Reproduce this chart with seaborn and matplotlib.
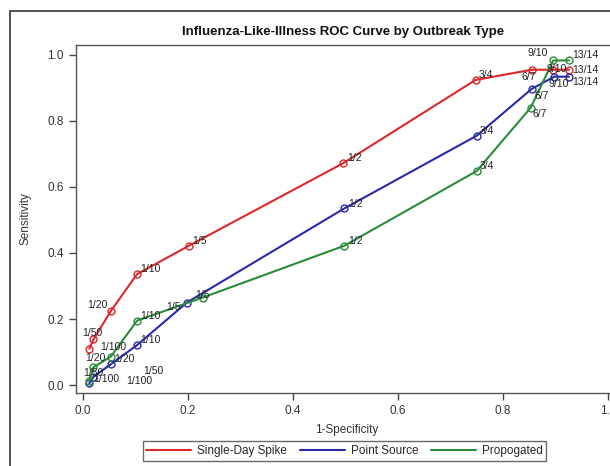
import numpy as np
import pandas as pd
import matplotlib
matplotlib.use('Agg')
import matplotlib.pyplot as plt
import seaborn as sns
from matplotlib.lines import Line2D
from matplotlib.patches import Rectangle

# ROC points per outbreak type, labelled by threshold
thresholds = ['1/100', '1/50', '1/20', '1/10', '1/5', '1/2', '3/4', '6/7', '9/10', '13/14']

spike_x = [0.012, 0.020, 0.053, 0.103, 0.202, 0.496, 0.748, 0.855, 0.896, 0.926]
spike_y = [0.110, 0.138, 0.224, 0.336, 0.422, 0.672, 0.924, 0.955, 0.955, 0.955]

point_x = [0.012, 0.020, 0.053, 0.103, 0.198, 0.498, 0.750, 0.855, 0.898, 0.926]
point_y = [0.005, 0.025, 0.063, 0.121, 0.250, 0.535, 0.755, 0.897, 0.934, 0.934]

prop_x = [0.012, 0.020, 0.053, 0.103, 0.228, 0.498, 0.750, 0.853, 0.896, 0.926]
prop_y = [0.012, 0.054, 0.086, 0.195, 0.265, 0.422, 0.648, 0.840, 0.983, 0.983]

series = ['Single-Day Spike', 'Point Source', 'Propogated']
colors = {'Single-Day Spike': '#dc2828', 'Point Source': '#2a2aa8', 'Propogated': '#2a8c3a'}

df = pd.concat([
    pd.DataFrame({'fpr': spike_x, 'sens': spike_y, 'lab': thresholds, 'type': series[0]}),
    pd.DataFrame({'fpr': point_x, 'sens': point_y, 'lab': thresholds, 'type': series[1]}),
    pd.DataFrame({'fpr': prop_x, 'sens': prop_y, 'lab': thresholds, 'type': series[2]}),
])

# label placement (offset points, centered) where the default doesn't fit
label_pos = {
    ('Single-Day Spike', '1/100'): (17, 1.5),
    ('Single-Day Spike', '1/50'): (-1, 5),
    ('Single-Day Spike', '1/20'): (-10, 4.5),
    ('Single-Day Spike', '6/7'): (-2, -5),
    ('Single-Day Spike', '9/10'): (2.5, 0.5),
    ('Point Source', '1/50'): (0, 2.5),
    ('Point Source', '1/5'): (-10, -3.5),
    ('Point Source', '6/7'): (7, -5),
    ('Point Source', '9/10'): (3, -5),
    ('Propogated', '1/100'): (36, 0),
    ('Propogated', '1/50'): (43, -2.5),
    ('Propogated', '1/20'): (-11, -1),
    ('Propogated', '1/5'): (0, 2),
    ('Propogated', '6/7'): (6.5, -4.5),
    ('Propogated', '9/10'): (-11, 5.5),
}

sns.set_style('white')
plt.rcParams['font.family'] = ['Liberation Sans', 'DejaVu Sans']

fig = plt.figure(figsize=(6.1, 4.66), dpi=100)
ax = fig.add_axes([0.1246, 0.1567, 0.889, 0.7468])

for name in series:
    sub = df[df['type'] == name]
    sns.lineplot(data=sub, x='fpr', y='sens', color=colors[name], sort=False,
                 marker='o', markersize=5, markerfacecolor='none',
                 markeredgecolor=colors[name], markeredgewidth=1,
                 linewidth=1.5, legend=False, ax=ax)
    for _, r in sub.iterrows():
        key = (name, r['lab'])
        if key in label_pos:
            ax.annotate(r['lab'], (r['fpr'], r['sens']), xytext=label_pos[key],
                        textcoords='offset points', ha='center', va='center',
                        fontsize=7.5, color='#222222')
        else:
            dy = 3.5
            if r['lab'] == '13/14':
                dy = {'Single-Day Spike': 0, 'Point Source': -4, 'Propogated': 4}[name]
            ax.annotate(r['lab'], (r['fpr'], r['sens']), xytext=(2.5, dy),
                        textcoords='offset points', ha='left', va='center',
                        fontsize=7.5, color='#222222')

ax.set_xlim(-0.0133, 1.02)
ax.set_ylim(-0.024, 1.03)
ticks = [0.0, 0.2, 0.4, 0.6, 0.8, 1.0]
ax.set_xticks(ticks)
ax.set_yticks(ticks)
ax.set_xticklabels([f'{t:.1f}' for t in ticks])
ax.set_yticklabels([f'{t:.1f}' for t in ticks])
ax.tick_params(axis='both', direction='out', length=5, width=1, color='#444444',
               labelsize=8.5, labelcolor='#333333', pad=4)
ax.tick_params(left=True, bottom=True)
for s in ax.spines.values():
    s.set_color('#555555')
    s.set_linewidth(1)

ax.set_xlabel('1-Specificity', fontsize=8.5, color='#333333', labelpad=5)
ax.set_ylabel('Sensitivity', fontsize=8.5, color='#333333', labelpad=11)

fig.text(0.562, 1 - 32 / 466, 'Influenza-Like-Illness ROC Curve by Outbreak Type',
         ha='center', va='center', fontsize=9.5, fontweight='bold', color='#111111')

handles = [Line2D([0], [0], color=colors[n], lw=1.5) for n in series]
leg = fig.legend(handles, series, loc='center', bbox_to_anchor=(0.565, 1 - 451 / 466),
                 ncol=3, frameon=True, fancybox=False, handlelength=3.8, fontsize=8.5,
                 columnspacing=1.1, handletextpad=0.5, borderpad=0.3, borderaxespad=0)
leg.get_frame().set_edgecolor('#444444')
leg.get_frame().set_linewidth(1)

# outer figure border (cropped at right and bottom)
fig.patches.append(Rectangle((10 / 610, -0.1), 1.2, 1 - 11 / 466 + 0.1,
                             transform=fig.transFigure, fill=False,
                             edgecolor='#333333', linewidth=1.2))

fig.savefig('out.png', dpi=100)
